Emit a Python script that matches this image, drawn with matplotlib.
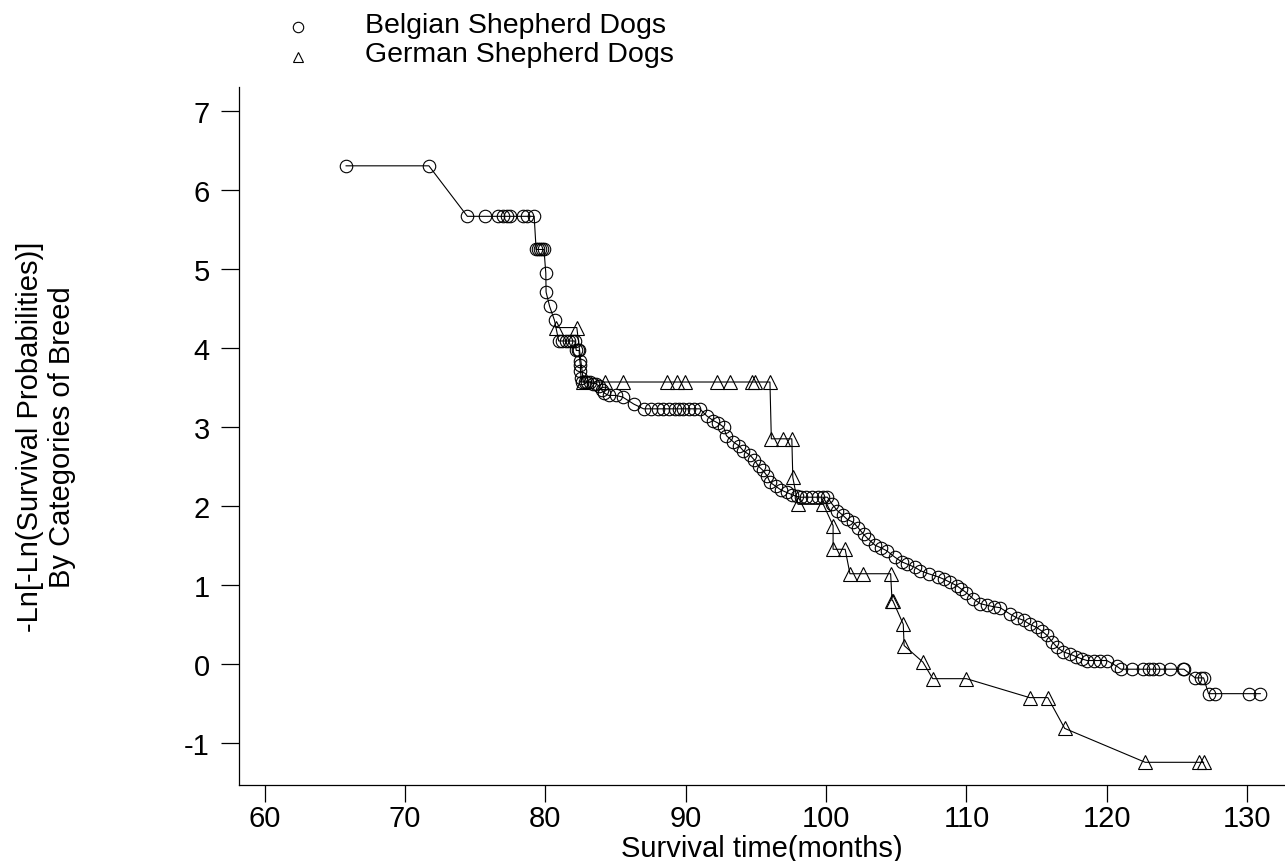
import matplotlib
matplotlib.use("Agg")
import matplotlib.pyplot as plt
from matplotlib.lines import Line2D

plt.rcParams["font.family"] = ["Liberation Sans", "DejaVu Sans"]
plt.rcParams["axes.unicode_minus"] = False

# Belgian Shepherd Dogs
belgian_x = [
    65.8, 71.7,
    74.44, 75.7, 76.65, 77.0, 77.3, 77.5, 78.4, 78.7, 79.2,
    79.34, 79.5, 79.6, 79.74, 79.9,
    80.03, 80.05, 80.3, 80.65,
    80.95, 81.2, 81.45, 81.7, 81.9, 82.1,
    82.2, 82.3, 82.4, 82.45, 82.5, 82.5, 82.55, 82.6, 82.8, 83.0, 83.2,
    83.4, 83.6, 83.8, 84.0, 84.2, 84.5, 85.0, 85.5, 86.3,
    87.0, 87.5, 88.0, 88.4, 88.8, 89.2, 89.5, 89.8, 90.2, 90.6, 91.0,
    91.5, 91.97, 92.3, 92.7, 92.9, 93.4, 93.8, 94.1, 94.6, 94.9, 95.2,
    95.5, 95.8, 96.0, 96.4, 96.8, 97.2, 97.6, 97.9,
    98.2, 98.6, 99.0, 99.4, 99.8, 100.1,
    100.4, 100.8, 101.2, 101.5, 101.95, 102.3, 102.67, 103.0, 103.5,
    103.9, 104.33, 104.9, 105.4, 105.8, 106.35, 106.7, 107.3, 108.0,
    108.4, 108.85, 109.3, 109.6, 110.0, 110.5, 111.0, 111.46, 112.0,
    112.4, 113.1, 113.6, 114.07, 114.5, 115.0, 115.4, 115.74, 116.1,
    116.45, 116.9, 117.4, 117.8, 118.23, 118.6, 119.06, 119.5, 120.0,
    120.7, 121.0, 121.8, 122.6, 123.0, 123.3, 123.7, 124.5, 125.4, 125.5,
    126.3, 126.7, 126.9, 127.25, 127.73, 130.1, 130.94,
]
belgian_y = [
    6.31, 6.31,
    5.67, 5.67, 5.67, 5.67, 5.67, 5.67, 5.67, 5.67, 5.67,
    5.25, 5.25, 5.25, 5.25, 5.25,
    4.95, 4.71, 4.53, 4.35,
    4.09, 4.09, 4.09, 4.09, 4.09, 4.09,
    3.97, 3.97, 3.97, 3.84, 3.78, 3.71, 3.62, 3.57, 3.57, 3.57, 3.57,
    3.55, 3.55, 3.52, 3.47, 3.43, 3.40, 3.40, 3.38, 3.29,
    3.23, 3.23, 3.23, 3.23, 3.23, 3.23, 3.23, 3.23, 3.23, 3.23, 3.23,
    3.14, 3.08, 3.05, 3.00, 2.89, 2.81, 2.76, 2.70, 2.64, 2.58, 2.50,
    2.45, 2.38, 2.30, 2.25, 2.20, 2.17, 2.14, 2.12,
    2.11, 2.11, 2.11, 2.11, 2.11, 2.11,
    2.03, 1.94, 1.88, 1.83, 1.79, 1.72, 1.64, 1.58, 1.50,
    1.47, 1.43, 1.35, 1.29, 1.26, 1.22, 1.18, 1.14, 1.10,
    1.07, 1.03, 0.99, 0.95, 0.90, 0.82, 0.76, 0.74, 0.72,
    0.71, 0.63, 0.58, 0.55, 0.50, 0.46, 0.41, 0.36, 0.28,
    0.21, 0.15, 0.12, 0.09, 0.06, 0.04, 0.04, 0.04, 0.04,
    -0.03, -0.07, -0.07, -0.07, -0.07, -0.07, -0.07, -0.07, -0.07, -0.07,
    -0.18, -0.18, -0.18, -0.38, -0.38, -0.38, -0.38,
]

# German Shepherd Dogs
german_x = [
    80.76, 82.24, 82.71, 84.26, 85.56, 88.65, 89.37, 89.96, 92.22, 93.17,
    94.71, 94.95, 96.0, 96.1, 96.96, 97.56, 97.63, 98.0, 99.8, 100.5,
    100.5, 101.36, 101.7, 102.6, 104.6, 104.7, 104.75, 105.5, 105.56,
    106.9, 107.6, 110.0, 114.5, 115.8, 117.0, 122.74, 126.55, 126.9,
]
german_y = [
    4.26, 4.26, 3.57, 3.57, 3.57, 3.57, 3.57, 3.57, 3.57, 3.57,
    3.57, 3.57, 3.57, 2.85, 2.85, 2.85, 2.36, 2.02, 2.02, 1.75,
    1.45, 1.45, 1.14, 1.14, 1.14, 0.80, 0.80, 0.50, 0.23,
    0.02, -0.19, -0.19, -0.43, -0.43, -0.82, -1.25, -1.25, -1.25,
]

labels = ["Belgian Shepherd Dogs", "German Shepherd Dogs"]
markers = ["o", "^"]

W, H = 1285, 862
fig = plt.figure(figsize=(W / 100, H / 100), dpi=100)
ax = fig.add_axes([0.186, 0.0885, 0.814, 0.8095])

ax.plot(belgian_x, belgian_y, color="black", linewidth=0.8,
        marker="o", markersize=9, markerfacecolor="none",
        markeredgecolor="black", markeredgewidth=0.8)
ax.plot(german_x, german_y, color="black", linewidth=0.8,
        marker="^", markersize=9.5, markerfacecolor="none",
        markeredgecolor="black", markeredgewidth=0.8)

ax.set_xlim(58.17, 132.7)
ax.set_ylim(-1.534, 7.31)
ax.set_xticks(range(60, 131, 10))
ax.set_yticks(range(-1, 8))

for side in ["top", "right"]:
    ax.spines[side].set_visible(False)
for side in ["left", "bottom"]:
    ax.spines[side].set_linewidth(0.9)

ax.tick_params(axis="x", length=12, width=0.9, pad=2, labelsize=21)
ax.tick_params(axis="y", length=13, width=0.9, pad=8, labelsize=21)

ax.set_xlabel("Survival time(months)", fontsize=21)
ax.xaxis.set_label_coords(0.5, -0.0707)
ax.set_ylabel("-Ln[-Ln(Survival Probabilities)]\nBy Categories of Breed",
              fontsize=21, linespacing=1.2)
ax.yaxis.set_label_coords(-0.1558, 0.5)

# legend at the top, drawn by hand
legend_rows = [(28.3, 33.3), (58.3, 61.7)]
for (marker_y, base_y), mk, lab in zip(legend_rows, markers, labels):
    fig.add_artist(Line2D([297.6 / W], [1 - marker_y / H],
                          transform=fig.transFigure, linestyle="none",
                          marker=mk, markersize=7.5, markerfacecolor="none",
                          markeredgecolor="black", markeredgewidth=0.8))
    fig.text(364.6 / W, 1 - base_y / H, lab, fontsize=20.5,
             ha="left", va="baseline")

fig.savefig("out.png", dpi=100)
